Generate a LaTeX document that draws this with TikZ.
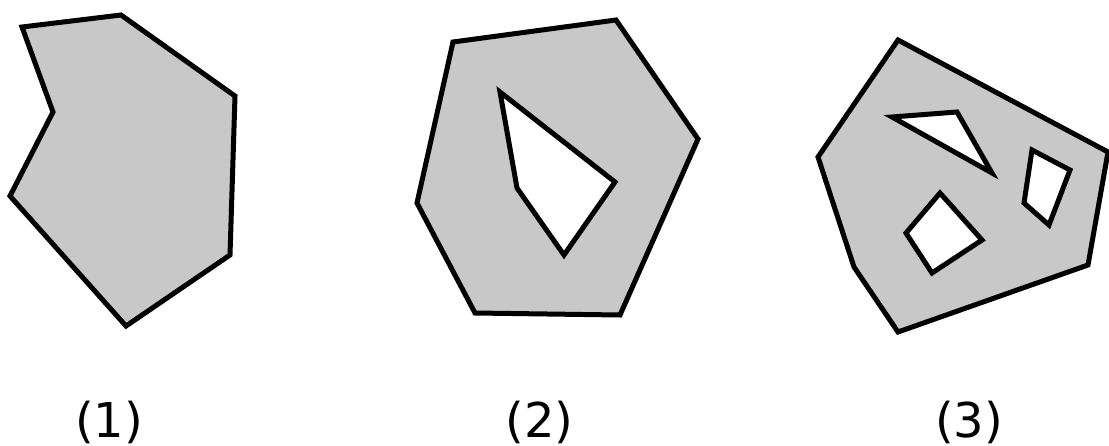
\documentclass[tikz,border=0pt]{standalone}
\usepackage{fontspec}
\setmainfont{DejaVu Sans}
\definecolor{polyfill}{HTML}{C8C8C8}
\begin{document}
\begin{tikzpicture}[x=1pt,y=-1pt,
  poly/.style={fill=polyfill,draw=black,line width=5pt,even odd rule,line join=miter},
  lbl/.style={anchor=base,inner sep=0pt,font=\fontsize{48}{58}\selectfont}]
\useasboundingbox (0,0) rectangle (1109,445);
\begin{scope}
\clip (0,0) rectangle (1109,445);
% polygon 1
\path[poly] (22,27) -- (121,15) -- (235,96) -- (230,255) -- (126,326) -- (10,196) -- (53,112) -- cycle;
% polygon 2 with one hole
\path[poly] (453,42) -- (616,20) -- (698,139) -- (620,315) -- (475,313) -- (417,203) -- cycle
  (500,92) -- (615,182) -- (564,255) -- (517,188) -- cycle;
% polygon 3 with three holes
\path[poly] (898,40) -- (1108,152) -- (1088,265) -- (898,332) -- (854,267) -- (818,157) -- cycle
  (892,117) -- (957,112) -- (992,173) -- cycle
  (1032,150) -- (1070,170) -- (1049,225) -- (1024,203) -- cycle
  (940,193) -- (982,240) -- (932,273) -- (906,233) -- cycle;
\end{scope}
\node[lbl] (l1) at (109,437) {(1)};
\node[lbl] (l2) at (539.5,437) {(2)};
\node[lbl] (l3) at (969,437) {(3)};
\end{tikzpicture}
\end{document}
